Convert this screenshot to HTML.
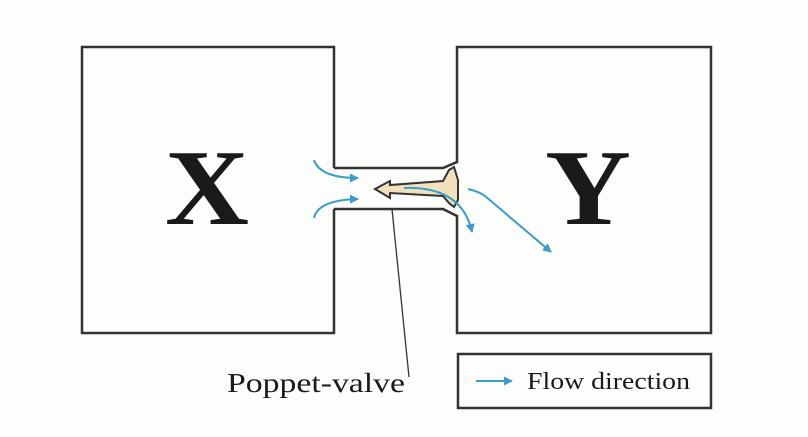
<!DOCTYPE html>
<html><head><style>
body{margin:0;background:#fdfdfc;}
svg{display:block}
</style></head><body>
<svg width="808" height="437" xmlns="http://www.w3.org/2000/svg">
<defs>
<marker id="a" markerWidth="9" markerHeight="9" refX="8" refY="4.5" orient="auto" markerUnits="userSpaceOnUse">
<path d="M0,0 L9,4.5 L0,9 Z" fill="#3a9cc8"/></marker>
</defs>
<g fill="none" stroke="#333" stroke-width="2.5">
<path d="M334,168 V47 H82 V333 H334 V209"/>
<path d="M334,168 H443 L457,162 V47 H711 V333 H457 V216 L443,209 H334"/>
<rect x="458" y="354" width="253" height="54"/>
</g>
<line x1="392" y1="209" x2="409" y2="377" stroke="#333" stroke-width="1.3"/>
<path d="M375,189 L390,181 L390,185 L443,181 L449,170 L454,167 L458,180 L458,200 L454,207 L449,203 L443,196 L390,193 L390,198 Z" fill="#f3e0bd" stroke="#333" stroke-width="2"/>
<g fill="none" stroke="#3a9cc8" stroke-width="2" marker-end="url(#a)">
<path d="M314,160 Q320,178 358,178"/>
<path d="M314,218 Q318,200 358,199"/>
<path d="M404,188 Q462,186 472,232"/>
<path d="M468,189 Q480,192 485,196 L551,252" />
<line x1="476" y1="381" x2="512" y2="381"/>
</g>
<g font-family="'Liberation Serif',serif" fill="#1a1a1a">
<text x="165" y="224" font-size="108" font-weight="bold" textLength="84" lengthAdjust="spacingAndGlyphs">X</text>
<text x="545" y="224" font-size="108" font-weight="bold" textLength="86" lengthAdjust="spacingAndGlyphs">Y</text>
<text x="227" y="392" font-size="27" textLength="178" lengthAdjust="spacingAndGlyphs">Poppet-valve</text>
<text x="527" y="389" font-size="24" textLength="163" lengthAdjust="spacingAndGlyphs">Flow direction</text>
</g>
</svg>
</body></html>
